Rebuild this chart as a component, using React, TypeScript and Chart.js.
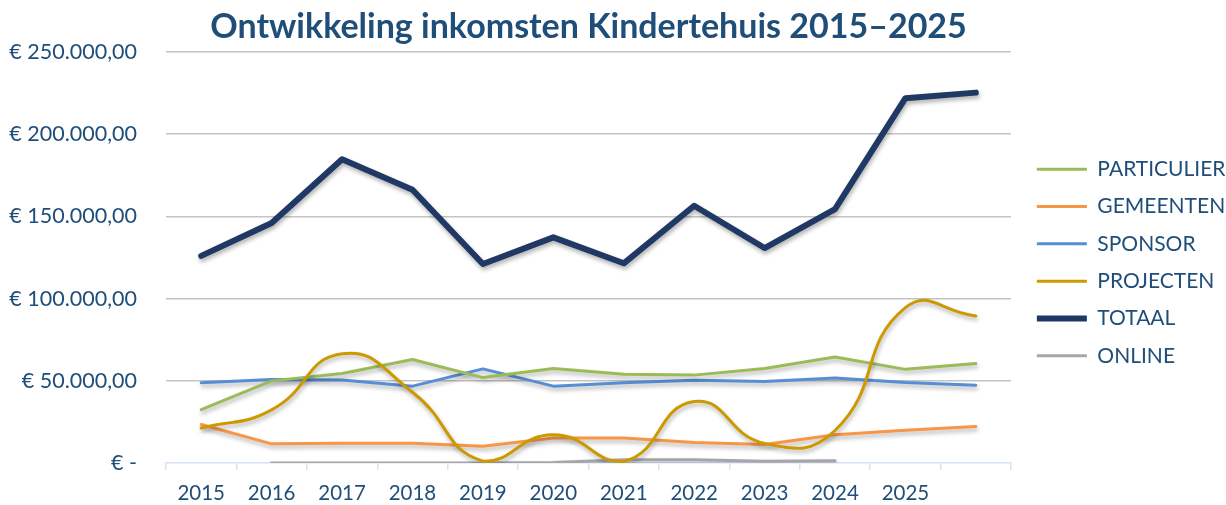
import React, { useEffect, useRef } from "react";
import { Chart, registerables } from "chart.js";

Chart.register(...registerables);

const years = ["2015", "2016", "2017", "2018", "2019", "2020", "2021", "2022", "2023", "2024", "2025", ""];

const particulier = [32500, 50000, 54500, 63000, 52000, 57500, 54000, 53500, 57500, 64500, 57000, 60500];
const gemeenten = [23500, 11700, 12000, 12000, 10200, 15200, 15200, 12500, 11300, 17200, 20000, 22300];
const sponsor = [48800, 50800, 50600, 46800, 57300, 46800, 48800, 50400, 49600, 51700, 49000, 47400];
const projecten = [21300, 32400, 66500, 43100, 1200, 17200, 1000, 37400, 12000, 19800, 94500, 89500];
const totaal = [126000, 146000, 184800, 166200, 121100, 137300, 121500, 156500, 130800, 154500, 221900, 225300];
const online = [null, 0, 0, 0, 0, 300, 2000, 2000, 1200, 1500, null, null];

const yTicks = [0, 50000, 100000, 150000, 200000, 250000];

const TEXT = "#1F4E79";
const FONT = "Lato, 'Open Sans', sans-serif";

function euro(v: number): string {
  if (v === 0) return "€ -";
  const s = Math.round(v).toString().replace(/\B(?=(\d{3})+(?!\d))/g, ".");
  return "€ " + s + ",00";
}

const LEGEND_DX = 9.5;
const LEGEND_DY = 10;

const shadowPlugin = {
  id: "lineShadow",
  beforeDatasetsDraw(chart: any) {
    const ctx = chart.ctx;
    ctx.save();
    ctx.shadowColor = "rgba(0,0,0,0.30)";
    ctx.shadowBlur = 4;
    ctx.shadowOffsetX = 1;
    ctx.shadowOffsetY = 3;
  },
  afterDatasetsDraw(chart: any) {
    chart.ctx.restore();
  },
};

const legendShift = {
  id: "legendShift",
  afterLayout(chart: any) {
    const lg = chart.legend;
    if (!lg) return;
    lg.left += LEGEND_DX;
    lg.right += LEGEND_DX;
    lg.top += LEGEND_DY;
    lg.bottom += LEGEND_DY;
  },
};

export default function App() {
  const ref = useRef<HTMLCanvasElement | null>(null);

  useEffect(() => {
    if (!ref.current) return;
    const mk = (label: string, data: any[], color: string, width: number, order: number, extra: any = {}) => ({
      label,
      data,
      borderColor: color,
      backgroundColor: color,
      borderWidth: width,
      pointRadius: 0,
      pointHoverRadius: 0,
      tension: 0,
      fill: false,
      order,
      borderCapStyle: "round",
      borderJoinStyle: "round",
      spanGaps: false,
      ...extra,
    });

    const chart = new Chart(ref.current, {
      type: "line",
      data: {
        labels: years,
        datasets: [
          mk("PARTICULIER", particulier, "#9BBB59", 3, 2),
          mk("GEMEENTEN", gemeenten, "#F79646", 3, 4),
          mk("SPONSOR", sponsor, "#558ED5", 3, 3),
          mk("PROJECTEN", projecten, "#CC9900", 3, 0, { tension: 0.5 }),
          mk("TOTAAL", totaal, "#1F3864", 6, 1),
          mk("ONLINE", online, "#A6A6A6", 3, 5),
        ] as any,
      },
      options: {
        animation: false,
        responsive: false,
        maintainAspectRatio: false,
        layout: { padding: { left: 0, right: 0, top: 0, bottom: 0 } },
        plugins: {
          tooltip: { enabled: false },
          title: {
            display: true,
            text: "Ontwikkeling inkomsten Kindertehuis 2015–2025",
            color: TEXT,
            fullSize: false,
            font: { family: FONT, size: 34, weight: "bold" },
            padding: { top: 7, bottom: 4.2 },
          },
          legend: {
            position: "right",
            align: "center",
            labels: {
              usePointStyle: true,
              pointStyle: "line",
              pointStyleWidth: 50,
              color: TEXT,
              font: { family: FONT, size: 21 },
              padding: 16.3,
              sort: (a: any, b: any) => a.datasetIndex - b.datasetIndex,
            },
          },
        },
        scales: {
          x: {
            offset: true,
            afterFit: (scale: any) => {
              scale.height = 40;
            },
            grid: {
              offset: true,
              drawOnChartArea: false,
              drawTicks: true,
              tickLength: 7,
              color: "#D6E3F5",
              lineWidth: 1.5,
            },
            border: { display: true, color: "#D6E3F5", width: 1.5 },
            ticks: {
              color: TEXT,
              font: { family: FONT, size: 20.5 },
              padding: 11,
              maxRotation: 0,
              autoSkip: false,
            },
          },
          y: {
            min: 0,
            max: 250000,
            afterBuildTicks: (axis: any) => {
              axis.ticks = yTicks.map((v) => ({ value: v }));
            },
            afterFit: (scale: any) => {
              scale.width = 166;
            },
            grid: {
              drawTicks: false,
              color: (c: any) => (c.tick && c.tick.value === 0 ? "rgba(0,0,0,0)" : "#C4C4C4"),
              lineWidth: 1.5,
            },
            border: { display: false },
            ticks: {
              color: TEXT,
              font: { family: FONT, size: 21.5 },
              padding: 29,
              callback: (v: any) => euro(Number(v)),
            },
          },
        },
      } as any,
      plugins: [shadowPlugin, legendShift],
    });
    return () => chart.destroy();
  }, []);

  return (
    <div style={{ position: "absolute", left: 0, top: 0, width: 1226, height: 505, background: "#fff" }}>
      <canvas ref={ref} width={1226} height={505} style={{ width: 1226, height: 505, display: "block" }} />
    </div>
  );
}
